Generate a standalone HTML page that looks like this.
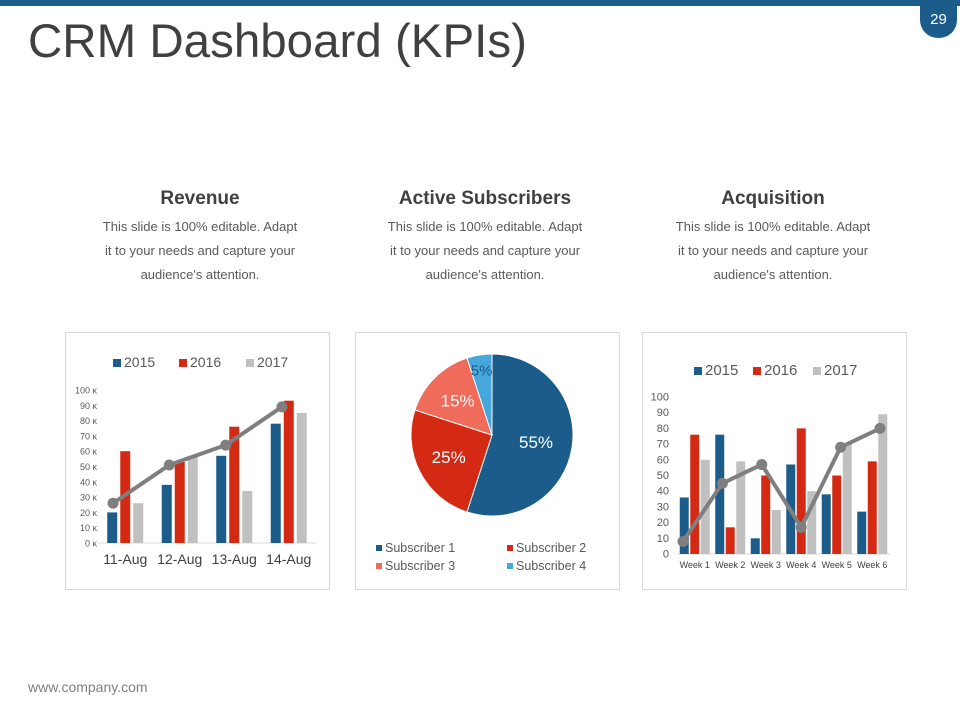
<!DOCTYPE html>
<html><head><meta charset="utf-8">
<style>
body{margin:0;width:960px;height:720px;background:#fff;font-family:"Liberation Sans",Arial,sans-serif;position:relative;overflow:hidden}
.abs{position:absolute}
.h{position:absolute;width:260px;text-align:center;font-weight:bold;font-size:19px;color:#404040;top:188px}
.p{position:absolute;width:260px;text-align:center;font-size:13px;color:#595959;line-height:24px;top:215px}
.panel{position:absolute;top:332px;width:263px;height:256px;border:1px solid #d9d9d9;background:#fff}
</style></head><body>
<div class="abs" style="left:0;top:0;width:960px;height:6px;background:#1b5c8a"></div>
<div class="abs" style="left:920px;top:0;width:37px;height:38px;background:#1b5c8a;border-radius:0 0 18px 18px;color:#fff;font-size:15px;text-align:center;line-height:40px">29</div>
<div class="abs" style="left:28px;top:14px;font-size:47.5px;color:#404040">CRM Dashboard (KPIs)</div>
<div class="h" style="left:70px">Revenue</div>
<div class="p" style="left:70px">This slide is 100% editable. Adapt<br>it to your needs and capture your<br>audience's attention.</div>
<div class="h" style="left:355px">Active Subscribers</div>
<div class="p" style="left:355px">This slide is 100% editable. Adapt<br>it to your needs and capture your<br>audience's attention.</div>
<div class="h" style="left:643px">Acquisition</div>
<div class="p" style="left:643px">This slide is 100% editable. Adapt<br>it to your needs and capture your<br>audience's attention.</div>
<div class="panel" style="left:65px"></div>
<div class="panel" style="left:355px"></div>
<div class="panel" style="left:642px"></div>
<div class="abs" style="left:28px;top:679px;font-size:14px;color:#7f7f7f">www.company.com</div>
<svg id="svg" class="abs" style="left:0;top:0" width="960" height="720"></svg>
<script>
const revCats=["11-Aug","12-Aug","13-Aug","14-Aug"];
const rev2015=[20,38,57,78];
const rev2016=[60,53,76,93];
const rev2017=[26,57,34,85];
const revLine=[26,51,64,89];
const revTicks=[0,10,20,30,40,50,60,70,80,90,100];
const acqCats=["Week 1","Week 2","Week 3","Week 4","Week 5","Week 6"];
const acq2015=[36,76,10,57,38,27];
const acq2016=[76,17,50,80,50,59];
const acq2017=[60,59,28,40,70,89];
const acqLine=[8,45,57,17,68,80];
const acqTicks=[0,10,20,30,40,50,60,70,80,90,100];
const pieLabels=["Subscriber 1","Subscriber 2","Subscriber 3","Subscriber 4"];
const pieValues=[55,25,15,5];
const C=["#1b5c8a","#d42a14","#c0c0c0"];
const PC=["#1b5c8a","#d42a14","#ef6b5a","#46a7dc"];
const svg=document.getElementById('svg');
const NS="http://www.w3.org/2000/svg";
function mk(t,a,txt){const e=document.createElementNS(NS,t);for(const k in a)e.setAttribute(k,a[k]);if(txt!==undefined)e.textContent=txt;svg.appendChild(e);return e;}
function bars(o){
  const y=v=>o.y0-(v-0)/100*(o.y0-o.y100);
  const band=(o.x1-o.x0)/o.cats.length;
  const xc=i=>o.x0+band*(i+0.5);
  const n=o.line.length;
  const xl=i=>o.lx0+(o.lx1-o.lx0)*i/(n-1);
  o.ticks.forEach(t=>{const e=mk('text',{x:o.tx,y:y(t)+3.5,'text-anchor':'end','font-size':o.tfs,fill:'#595959'},o.tfmt(t));
    });
  const ax=mk('line',{x1:o.x0,x2:o.x1,y1:o.y0,y2:o.y0,stroke:'#d9d9d9'});
  
  [o.s1,o.s2,o.s3].forEach((s,k)=>s.forEach((v,i)=>{
    const r=mk('rect',{x:xc(i)+(k-1)*o.step-o.bw/2,y:y(v),width:o.bw,height:o.y0-y(v),fill:C[k]});
    }));
  o.cats.forEach((c,i)=>{const e=mk('text',{x:xc(i),y:o.y0+o.cly,'text-anchor':'middle','font-size':o.cfs,fill:'#404040'},c);
    });
  const pl=mk('polyline',{points:o.line.map((v,i)=>xl(i)+','+y(v)).join(' '),fill:'none',stroke:'#7f7f7f','stroke-width':4});
  
  o.line.forEach((v,i)=>{const c=mk('circle',{cx:xl(i),cy:y(v),r:5.5,fill:'#7f7f7f'});
    });
  o.names.forEach((n,k)=>{const lx=o.lx[k];
    const r=mk('rect',{x:lx,y:o.ly-8,width:8,height:8,fill:C[k]});
    const t=mk('text',{x:lx+11,y:o.ly,'font-size':o.lfs,fill:'#595959'},n);});
}
bars({cats:revCats,s1:rev2015,s2:rev2016,s3:rev2017,line:revLine,ticks:revTicks,names:["2015","2016","2017"],
  x0:98,x1:316,y0:543,y100:390,bw:10,step:13,tx:97,tfs:9,tfmt:t=>t+' ĸ',cly:21,cfs:14,lx:[113,179,246],ly:367,lfs:14,lx0:113,lx1:282});
bars({cats:acqCats,s1:acq2015,s2:acq2016,s3:acq2017,line:acqLine,ticks:acqTicks,names:["2015","2016","2017"],
  x0:677,x1:890,y0:554,y100:397,bw:9,step:10.5,tx:669,tfs:11,tfmt:t=>''+t,cly:14,cfs:9,lx:[694,753,813],ly:375,lfs:15,lx0:683,lx1:880});
// pie
const cx=492,cy=435,R=81;let a=0;const tot=pieValues.reduce((s,v)=>s+v,0);
const lblCol=["#fff","#fff","#fff","#1b5c8a"];
pieValues.forEach((v,i)=>{
  const a0=a,a1=a+v/tot*2*Math.PI;a=a1;
  const p=t=>[cx+R*Math.sin(t),cy-R*Math.cos(t)];
  const [x0,y0]=p(a0),[x1,y1]=p(a1);
  const s=mk('path',{d:`M${cx},${cy}L${x0},${y0}A${R},${R} 0 ${a1-a0>Math.PI?1:0} 1 ${x1},${y1}Z`,fill:PC[i],stroke:'#fff','stroke-width':1});
  
  const m=(a0+a1)/2,rr=i==0?0.55:(i==3?0.82:0.6);
  const t=mk('text',{x:cx+R*rr*Math.sin(m),y:cy-R*rr*Math.cos(m)+6,'text-anchor':'middle','font-size':i==3?15:17,fill:lblCol[i]},v+'%');
  
});
pieLabels.forEach((n,i)=>{const lx=376+(i%2)*131,ly=552+Math.floor(i/2)*18;
  const r=mk('rect',{x:lx,y:ly-7,width:6,height:6,fill:PC[i]});
  const t=mk('text',{x:lx+9,y:ly,'font-size':12.5,fill:'#595959'},n);});
</script>
</body></html>
